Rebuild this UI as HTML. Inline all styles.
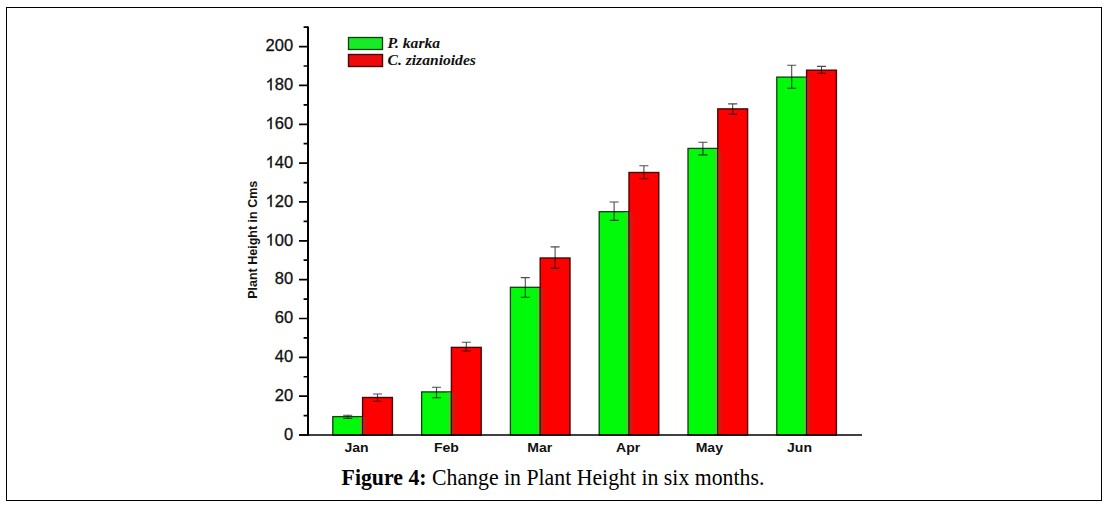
<!DOCTYPE html>
<html><head><meta charset="utf-8"><style>
html,body{margin:0;padding:0;background:#fff;}
body{width:1109px;height:508px;position:relative;overflow:hidden;}
.frame{position:absolute;left:6px;top:7px;width:1094px;height:492px;border:1.2px solid #000;}
svg{position:absolute;left:0;top:0;}
.yl{font-family:"Liberation Sans",sans-serif;font-size:16.5px;fill:#111;stroke:#111;stroke-width:0.3px;}
.xl{font-family:"Liberation Sans",sans-serif;font-size:13px;font-weight:bold;fill:#111;}
.yt{font-family:"Liberation Sans",sans-serif;font-size:12.5px;font-weight:bold;fill:#111;}
.lg{font-family:"Liberation Serif",serif;font-size:15.6px;font-weight:bold;font-style:italic;fill:#111;}
.cap{position:absolute;left:0;width:1106px;top:465px;text-align:center;font-family:"Liberation Serif",serif;font-size:21.8px;line-height:26px;color:#000;white-space:nowrap;transform:scale(1,1.065);transform-origin:50% 19.7px;}
</style></head><body>
<div class="frame"></div>
<svg width="1109" height="508" viewBox="0 0 1109 508">
<defs><linearGradient id="gg" x1="0" x2="1" y1="0" y2="0"><stop offset="0" stop-color="#00fa0a"/><stop offset="0.5" stop-color="#30dc25"/><stop offset="1" stop-color="#68c23c"/></linearGradient><linearGradient id="rg" x1="0" x2="1" y1="0" y2="0"><stop offset="0" stop-color="#a8301a"/><stop offset="0.45" stop-color="#d01a10"/><stop offset="1" stop-color="#ff0000"/></linearGradient></defs>
<rect x="332.80" y="416.60" width="29.80" height="18.40" fill="#00fa0a" stroke="#0a400a" stroke-width="1.3"/>
<rect x="358.40" y="417.30" width="3.6" height="17.00" fill="url(#gg)"/>
<rect x="362.60" y="397.50" width="29.80" height="37.50" fill="#ff0000" stroke="#4a0505" stroke-width="1.4"/>
<rect x="363.20" y="417.30" width="4.2" height="17.00" fill="url(#rg)"/>
<rect x="421.60" y="391.90" width="29.80" height="43.10" fill="#00fa0a" stroke="#0a400a" stroke-width="1.3"/>
<rect x="447.20" y="392.60" width="3.6" height="41.70" fill="url(#gg)"/>
<rect x="451.40" y="347.40" width="29.80" height="87.60" fill="#ff0000" stroke="#4a0505" stroke-width="1.4"/>
<rect x="452.00" y="392.60" width="4.2" height="41.70" fill="url(#rg)"/>
<rect x="510.40" y="287.30" width="29.80" height="147.70" fill="#00fa0a" stroke="#0a400a" stroke-width="1.3"/>
<rect x="536.00" y="288.00" width="3.6" height="146.30" fill="url(#gg)"/>
<rect x="540.20" y="258.00" width="29.80" height="177.00" fill="#ff0000" stroke="#4a0505" stroke-width="1.4"/>
<rect x="540.80" y="288.00" width="4.2" height="146.30" fill="url(#rg)"/>
<rect x="599.20" y="211.70" width="29.80" height="223.30" fill="#00fa0a" stroke="#0a400a" stroke-width="1.3"/>
<rect x="624.80" y="212.40" width="3.6" height="221.90" fill="url(#gg)"/>
<rect x="629.00" y="172.50" width="29.80" height="262.50" fill="#ff0000" stroke="#4a0505" stroke-width="1.4"/>
<rect x="629.60" y="212.40" width="4.2" height="221.90" fill="url(#rg)"/>
<rect x="688.00" y="148.40" width="29.80" height="286.60" fill="#00fa0a" stroke="#0a400a" stroke-width="1.3"/>
<rect x="713.60" y="149.10" width="3.6" height="285.20" fill="url(#gg)"/>
<rect x="717.80" y="108.90" width="29.80" height="326.10" fill="#ff0000" stroke="#4a0505" stroke-width="1.4"/>
<rect x="718.40" y="149.10" width="4.2" height="285.20" fill="url(#rg)"/>
<rect x="776.80" y="77.10" width="29.80" height="357.90" fill="#00fa0a" stroke="#0a400a" stroke-width="1.3"/>
<rect x="802.40" y="77.80" width="3.6" height="356.50" fill="url(#gg)"/>
<rect x="806.60" y="70.20" width="29.80" height="364.80" fill="#ff0000" stroke="#4a0505" stroke-width="1.4"/>
<rect x="807.20" y="77.80" width="4.2" height="356.50" fill="url(#rg)"/>
<path d="M343.20 415.20H352.20M347.70 415.20V418.40M343.20 418.40H352.20" stroke="#000" stroke-opacity="0.7" stroke-width="1.1" fill="none"/>
<path d="M373.00 394.00H382.00M377.50 394.00V401.30M373.00 401.30H382.00" stroke="#000" stroke-opacity="0.7" stroke-width="1.1" fill="none"/>
<path d="M432.00 387.30H441.00M436.50 387.30V397.80M432.00 397.80H441.00" stroke="#000" stroke-opacity="0.7" stroke-width="1.1" fill="none"/>
<path d="M461.80 342.30H470.80M466.30 342.30V351.00M461.80 351.00H470.80" stroke="#000" stroke-opacity="0.7" stroke-width="1.1" fill="none"/>
<path d="M520.80 277.60H529.80M525.30 277.60V297.20M520.80 297.20H529.80" stroke="#000" stroke-opacity="0.7" stroke-width="1.1" fill="none"/>
<path d="M550.60 246.90H559.60M555.10 246.90V268.40M550.60 268.40H559.60" stroke="#000" stroke-opacity="0.7" stroke-width="1.1" fill="none"/>
<path d="M609.60 202.00H618.60M614.10 202.00V220.40M609.60 220.40H618.60" stroke="#000" stroke-opacity="0.7" stroke-width="1.1" fill="none"/>
<path d="M639.40 165.70H648.40M643.90 165.70V178.80M639.40 178.80H648.40" stroke="#000" stroke-opacity="0.7" stroke-width="1.1" fill="none"/>
<path d="M698.40 142.30H707.40M702.90 142.30V154.90M698.40 154.90H707.40" stroke="#000" stroke-opacity="0.7" stroke-width="1.1" fill="none"/>
<path d="M728.20 103.90H737.20M732.70 103.90V114.40M728.20 114.40H737.20" stroke="#000" stroke-opacity="0.7" stroke-width="1.1" fill="none"/>
<path d="M787.20 65.30H796.20M791.70 65.30V88.30M787.20 88.30H796.20" stroke="#000" stroke-opacity="0.7" stroke-width="1.1" fill="none"/>
<path d="M817.00 66.40H826.00M821.50 66.40V73.30M817.00 73.30H826.00" stroke="#000" stroke-opacity="0.7" stroke-width="1.1" fill="none"/>
<path d="M299 435.00H308M303.6 415.58H308M299 396.16H308M303.6 376.74H308M299 357.32H308M303.6 337.90H308M299 318.48H308M303.6 299.06H308M299 279.64H308M303.6 260.22H308M299 240.80H308M303.6 221.38H308M299 201.96H308M303.6 182.54H308M299 163.12H308M303.6 143.70H308M299 124.28H308M303.6 104.86H308M299 85.44H308M303.6 66.02H308M299 46.60H308M303.6 27.18H308" stroke="#000" stroke-width="1.7" fill="none"/>
<path d="M308 26.38V435.8" stroke="#000" stroke-width="2" fill="none"/>
<path d="M299 435.0H862" stroke="#000" stroke-width="1.6" fill="none"/>
<text x="293.1" y="439.75" text-anchor="end" class="yl">0</text>
<text x="293.1" y="400.91" text-anchor="end" class="yl">20</text>
<text x="293.1" y="362.07" text-anchor="end" class="yl">40</text>
<text x="293.1" y="323.23" text-anchor="end" class="yl">60</text>
<text x="293.1" y="284.39" text-anchor="end" class="yl">80</text>
<path transform="translate(265.570,245.55) scale(0.008057,-0.008057)" d="M763 0H583V1147Q518 1085 412.5 1023Q307 961 223 930V1104Q374 1175 487 1276Q600 1377 647 1472H763Z" fill="#111" stroke="#111" stroke-width="37.2"/>
<text x="293.1" y="245.55" text-anchor="end" class="yl">00</text>
<path transform="translate(265.570,206.71) scale(0.008057,-0.008057)" d="M763 0H583V1147Q518 1085 412.5 1023Q307 961 223 930V1104Q374 1175 487 1276Q600 1377 647 1472H763Z" fill="#111" stroke="#111" stroke-width="37.2"/>
<text x="293.1" y="206.71" text-anchor="end" class="yl">20</text>
<path transform="translate(265.570,167.87) scale(0.008057,-0.008057)" d="M763 0H583V1147Q518 1085 412.5 1023Q307 961 223 930V1104Q374 1175 487 1276Q600 1377 647 1472H763Z" fill="#111" stroke="#111" stroke-width="37.2"/>
<text x="293.1" y="167.87" text-anchor="end" class="yl">40</text>
<path transform="translate(265.570,129.03) scale(0.008057,-0.008057)" d="M763 0H583V1147Q518 1085 412.5 1023Q307 961 223 930V1104Q374 1175 487 1276Q600 1377 647 1472H763Z" fill="#111" stroke="#111" stroke-width="37.2"/>
<text x="293.1" y="129.03" text-anchor="end" class="yl">60</text>
<path transform="translate(265.570,90.19) scale(0.008057,-0.008057)" d="M763 0H583V1147Q518 1085 412.5 1023Q307 961 223 930V1104Q374 1175 487 1276Q600 1377 647 1472H763Z" fill="#111" stroke="#111" stroke-width="37.2"/>
<text x="293.1" y="90.19" text-anchor="end" class="yl">80</text>
<text x="293.1" y="51.35" text-anchor="end" class="yl">200</text>
<text transform="translate(356.60,452.3) scale(1.08,1)" text-anchor="middle" class="xl">Jan</text>
<text transform="translate(446.40,452.3) scale(1.08,1)" text-anchor="middle" class="xl">Feb</text>
<text transform="translate(539.70,452.3) scale(1.08,1)" text-anchor="middle" class="xl">Mar</text>
<text transform="translate(628.20,452.3) scale(1.08,1)" text-anchor="middle" class="xl">Apr</text>
<text transform="translate(709.30,452.3) scale(1.08,1)" text-anchor="middle" class="xl">May</text>
<text transform="translate(799.50,452.3) scale(1.08,1)" text-anchor="middle" class="xl">Jun</text>
<text transform="translate(257.3,298.8) rotate(-90)" text-anchor="start" class="yt">Plant Height in Cms</text>
<rect x="348.5" y="37.5" width="34" height="12" fill="#18ea28" stroke="#0a400a" stroke-width="1.3"/>
<rect x="348.5" y="54.5" width="34" height="12" fill="#ee0a0a" stroke="#4a0505" stroke-width="1.4"/>
<text x="387.5" y="47.8" class="lg">P. karka</text>
<text x="387.5" y="64.7" class="lg">C. zizanioides</text>
</svg>
<div class="cap"><b>Figure 4:</b> Change in Plant Height in six months.</div>
</body></html>
